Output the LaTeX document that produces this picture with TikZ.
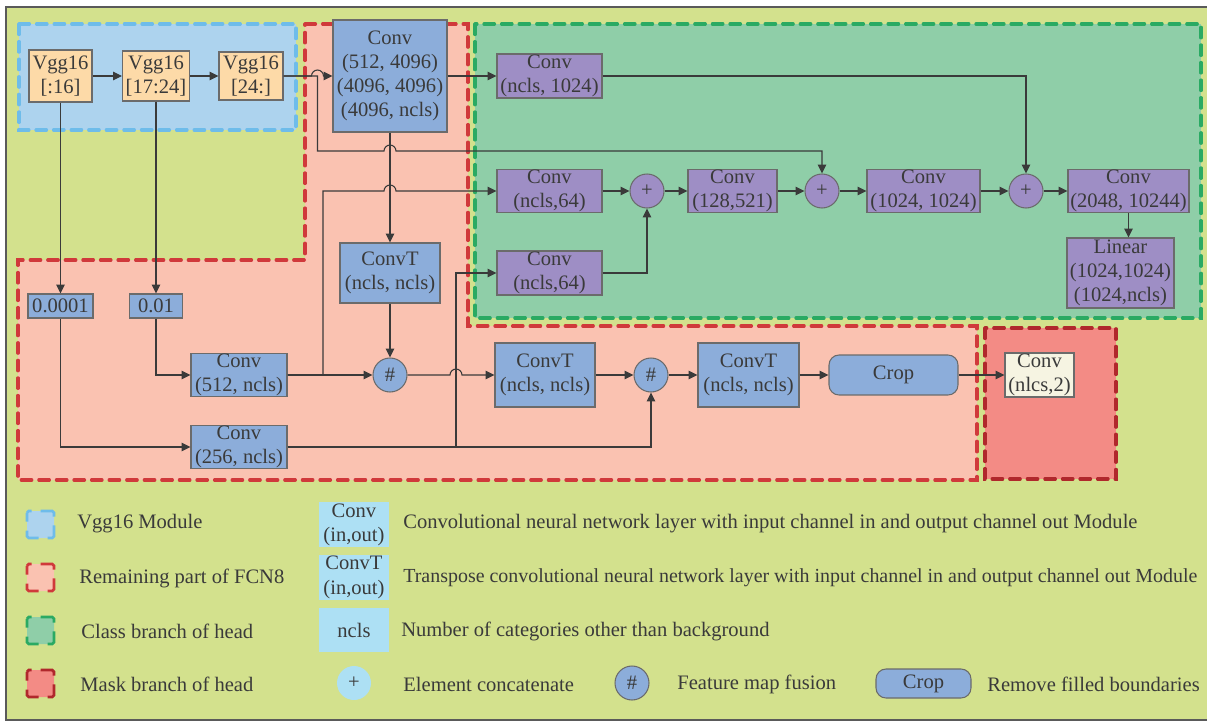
\documentclass[tikz,border=0pt]{standalone}
\usepackage{fontspec}
\setmainfont{Liberation Serif}
\usepackage{tikz}
\usetikzlibrary{arrows.meta}
\definecolor{panelfill}{HTML}{D3E18D}
\definecolor{panelline}{HTML}{5A5A5A}
\definecolor{vggfill}{HTML}{ADD3EE}
\definecolor{vggline}{HTML}{6EBCEA}
\definecolor{fcnfill}{HTML}{FAC2B1}
\definecolor{fcnline}{HTML}{D0393B}
\definecolor{clsfill}{HTML}{8FCEA8}
\definecolor{clsline}{HTML}{2AAA63}
\definecolor{maskfill}{HTML}{F38B85}
\definecolor{maskline}{HTML}{B0282C}
\definecolor{orangebox}{HTML}{FDDAA8}
\definecolor{bluebox}{HTML}{8CADDA}
\definecolor{purplebox}{HTML}{9E8EC5}
\definecolor{creambox}{HTML}{F6F4E2}
\definecolor{keybox}{HTML}{ADE0F4}
\definecolor{boxline}{HTML}{6B6B6B}
\definecolor{ink}{HTML}{3A3A3A}
\tikzstyle{regionline} = [line width=1.8pt, dash pattern=on 6pt off 4pt, line cap=round]
\tikzstyle{swatch} = [line width=1.6pt, dash pattern=on 10.2pt off 5.1pt, dash phase=5.1pt, rounded corners=1pt]
\tikzstyle{vggbox} = [draw=boxline, line width=0.6pt, fill=orangebox, inner sep=0pt, align=center]
\tikzstyle{fcnbox} = [draw=boxline, line width=0.6pt, fill=bluebox, inner sep=0pt, align=center]
\tikzstyle{clsbox} = [draw=boxline, line width=0.6pt, fill=purplebox, inner sep=0pt, align=center]
\tikzstyle{maskbox} = [draw=boxline, line width=0.6pt, fill=creambox, inner sep=0pt, align=center]
\tikzstyle{sumnode} = [circle, draw=boxline, line width=0.6pt, fill=purplebox, minimum size=0.68cm, inner sep=0pt]
\tikzstyle{fusenode} = [circle, draw=boxline, line width=0.6pt, fill=bluebox, minimum size=0.68cm, inner sep=0pt]
\tikzstyle{cropbox} = [draw=boxline, line width=0.6pt, fill=bluebox, rounded corners=0.2cm, inner sep=0pt]
\tikzstyle{keybox} = [fill=keybox, inner sep=0pt, align=center, minimum width=1.4cm]
\tikzstyle{keytext} = [anchor=west, inner sep=0pt]
\tikzstyle{arrowline} = [draw=ink, line width=0.6pt, -{Triangle[length=5pt, width=4.8pt]}]

\begin{document}
\begin{tikzpicture}[x=0.02cm, y=-0.02cm, font=\fontsize{11.7pt}{13.8pt}\selectfont, text=ink]
    \useasboundingbox (0,0) rectangle (1207,723);
    \fill[panelfill] (6,7) rectangle (1216,720);
    \draw[panelline, line width=1.5pt] (1216,7) -- (6,7) -- (6,720) -- (1216,720);

    \filldraw[regionline, draw=vggline, fill=vggfill] (19,24) rectangle (296,130);
    \filldraw[regionline, draw=fcnline, fill=fcnfill] (305,24) -- (468,24) -- (468,326) -- (977,326) -- (977,480) -- (18,480) -- (18,260) -- (305,260) -- cycle;
    \filldraw[regionline, draw=clsline, fill=clsfill] (475,24) rectangle (1201,318);
    \filldraw[regionline, draw=maskline, fill=maskfill] (985,328) rectangle (1116,479);

    \node[vggbox, minimum width=1.26cm, minimum height=1.04cm] (vggA) at (60.5,76) {Vgg16\\{[:16]}};
    \node[vggbox, minimum width=1.34cm, minimum height=1.0cm] (vggB) at (156,76) {Vgg16\\{[17:24]}};
    \node[vggbox, minimum width=1.28cm, minimum height=0.96cm] (vggC) at (251,76) {Vgg16\\{[24:]}};
    \node[fcnbox, minimum width=2.28cm, minimum height=2.24cm] (convA) at (390,76) {Conv\\(512, 4096)\\(4096, 4096)\\(4096, ncls)};
    \node[fcnbox, minimum width=2.0cm, minimum height=1.2cm] (convTA) at (390,273) {ConvT\\(ncls, ncls)};
    \node[fcnbox, minimum width=1.3cm, minimum height=0.48cm] (wA) at (60.5,306) {0.0001};
    \node[fcnbox, minimum width=1.06cm, minimum height=0.48cm] (wB) at (156,306) {0.01};
    \node[fcnbox, minimum width=1.92cm, minimum height=0.86cm] (conv512) at (239,375) {Conv\\(512, ncls)};
    \node[fcnbox, minimum width=1.92cm, minimum height=0.86cm] (conv256) at (239,447) {Conv\\(256, ncls)};
    \node[fusenode] (fuseA) at (390,375) {\#};
    \node[fcnbox, minimum width=2.0cm, minimum height=1.28cm] (convTB) at (545,375) {ConvT\\(ncls, ncls)};
    \node[fusenode] (fuseB) at (651,375) {\#};
    \node[fcnbox, minimum width=2.02cm, minimum height=1.28cm] (convTC) at (748.5,375) {ConvT\\(ncls, ncls)};
    \node[cropbox, minimum width=2.58cm, minimum height=0.8cm] (crop) at (893.5,375) {Crop};
    \node[maskbox, minimum width=1.38cm, minimum height=0.88cm] (convOut) at (1039.5,375) {Conv\\(nlcs,2)};

    \node[clsbox, minimum width=2.1cm, minimum height=0.88cm] (convCls) at (549.5,76) {Conv\\(ncls, 1024)};
    \node[clsbox, minimum width=2.1cm, minimum height=0.86cm] (convM1) at (549.5,191) {Conv\\(ncls,64)};
    \node[clsbox, minimum width=2.1cm, minimum height=0.88cm] (convM2) at (549.5,273) {Conv\\(ncls,64)};
    \node[sumnode] (plusA) at (647,191) {+};
    \node[clsbox, minimum width=1.78cm, minimum height=0.86cm] (conv128) at (732.5,191) {Conv\\(128,521)};
    \node[sumnode] (plusB) at (822,191) {+};
    \node[clsbox, minimum width=2.26cm, minimum height=0.86cm] (conv1024) at (923.5,191) {Conv\\(1024, 1024)};
    \node[sumnode] (plusC) at (1026,191) {+};
    \node[clsbox, minimum width=2.42cm, minimum height=0.86cm] (conv2048) at (1128.5,191) {Conv\\(2048, 10244)};
    \node[clsbox, minimum width=2.14cm, minimum height=1.4cm] (linear) at (1120.5,273) {Linear\\(1024,1024)\\(1024,ncls)};

    \coordinate (jA) at (317.5,76);
    \coordinate (jB) at (323,375);
    \coordinate (jC) at (456,447);
    \coordinate (hopA) at (390,151);
    \coordinate (hopB) at (390,191);
    \coordinate (hopC) at (456,375);

    \draw[arrowline] (vggA) -- (vggB);
    \draw[arrowline] (vggB) -- (vggC);
    \draw[arrowline] (vggC.east) -- ([xshift=-3.4pt]jA) arc[start angle=180, end angle=0, radius=3.4pt] -- (convA.west);
    \draw[arrowline] (vggC.east) -- (jA) -- (jA |- hopA) -- ([xshift=-3.4pt]hopA) arc[start angle=180, end angle=0, radius=3.4pt] -- (plusB |- hopA) -- (plusB.north);
    \draw[arrowline] (convA) -- (convCls);
    \draw[arrowline] (convCls.east) -| (plusC.north);
    \draw[arrowline] (convA) -- (convTA);
    \draw[arrowline] (convM1) -- (plusA);
    \draw[arrowline] (plusA) -- (conv128);
    \draw[arrowline] (conv128) -- (plusB);
    \draw[arrowline] (plusB) -- (conv1024);
    \draw[arrowline] (conv1024) -- (plusC);
    \draw[arrowline] (plusC) -- (conv2048);
    \draw[arrowline] (conv2048.south) -- (conv2048.south |- linear.north);
    \draw[arrowline] (convM2.east) -| (plusA.south);
    \draw[arrowline] (vggA) -- (wA);
    \draw[arrowline] (vggB) -- (wB);
    \draw[arrowline] (wA.south) |- (conv256.west);
    \draw[arrowline] (wB.south) |- (conv512.west);
    \draw[arrowline] (conv512) -- (fuseA);
    \draw[arrowline] (convTA) -- (fuseA);
    \draw[arrowline] (conv512.east) -- (jB) -- (jB |- hopB) -- ([xshift=-3.4pt]hopB) arc[start angle=180, end angle=0, radius=3.4pt] -- (convM1.west);
    \draw[arrowline] (fuseA.east) -- ([xshift=-3.4pt]hopC) arc[start angle=180, end angle=0, radius=3.4pt] -- (convTB.west);
    \draw[arrowline] (conv256.east) -| (fuseB.south);
    \draw[arrowline] (conv256.east) -- (jC) -- (jC |- convM2.west) -- (convM2.west);
    \draw[arrowline] (convTB) -- (fuseB);
    \draw[arrowline] (fuseB) -- (convTC);
    \draw[arrowline] (convTC) -- (crop);
    \draw[arrowline] (crop) -- (convOut);

    \filldraw[swatch, draw=vggline, fill=vggfill] (27,511) rectangle (54,538);
    \filldraw[swatch, draw=fcnline, fill=fcnfill] (27,564) rectangle (54,591);
    \filldraw[swatch, draw=clsline, fill=clsfill] (27,617) rectangle (54,644);
    \filldraw[swatch, draw=maskline, fill=maskfill] (27,670) rectangle (54,697);
    \node[keytext] (keyVgg) at (77,524) {Vgg16 Module};
    \node[keytext] (keyFcn) at (79,578) {Remaining part of FCN8};
    \node[keytext] (keyCls) at (81,631) {Class branch of head};
    \node[keytext] (keyMask) at (80,684) {Mask branch of head};

    \node[keybox, minimum height=0.9cm] (keyConv) at (354,524.5) {Conv\\(in,out)};
    \node[keybox, minimum height=0.9cm] (keyConvT) at (354,577.5) {ConvT\\(in,out)};
    \node[keybox, minimum height=0.88cm] (keyNcls) at (354,630) {ncls};
    \node[circle, fill=keybox, minimum size=0.68cm, inner sep=0pt] (keyPlus) at (354,683) {+};
    \node[keytext] (txtConv) at (403,524) {Convolutional neural network layer with input channel in and output channel out Module};
    \node[keytext, font=\fontsize{11.35pt}{13.8pt}\selectfont] (txtConvT) at (403,578) {Transpose convolutional neural network layer with input channel in and output channel out Module};
    \node[keytext] (txtNcls) at (401,631) {Number of categories other than background};
    \node[keytext] (txtPlus) at (403,684) {Element concatenate};
    \node[fusenode] (keyFuse) at (632,683) {\#};
    \node[keytext] (txtFuse) at (677,684) {Feature map fusion};
    \node[cropbox, minimum width=1.9cm, minimum height=0.58cm] (keyCrop) at (923.5,683.5) {Crop};
    \node[keytext] (txtCrop) at (987,684) {Remove filled boundaries};
\end{tikzpicture}
\end{document}
